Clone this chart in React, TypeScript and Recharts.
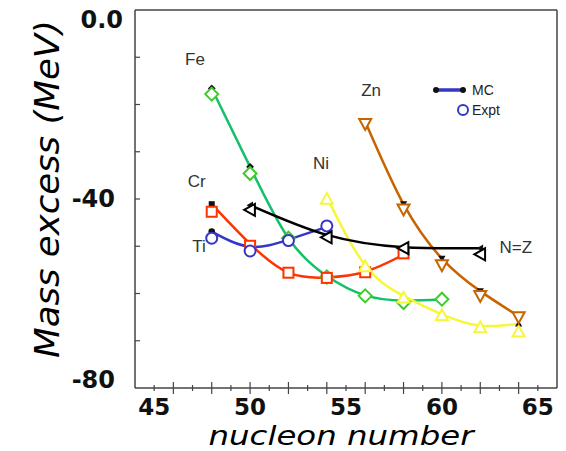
import React from "react";
import { ComposedChart, Line, Scatter, XAxis, YAxis, Legend } from "recharts";

// nucleon number (x) for each isotope chain, MC line values and experimental points (MeV)
const FE_N = [48, 50, 52, 54, 56, 58, 60];
const FE_MC = [-16.6, -33.2, -48.3, -56.3, -60.4, -61.5, -61.2];
const FE_EXPT = [-17.8, -34.6, -48.3, -56.5, -60.5, -61.9, -61.2];

const CR_N = [48, 50, 52, 54, 56, 58];
const CR_MC = [-41.1, -49.5, -55.6, -56.6, -55.4, -51.8];
const CR_EXPT = [-42.7, -49.9, -55.6, -56.7, -55.5, -51.5];

const TI_N = [48, 50, 52, 54];
const TI_MC = [-46.9, -50.1, -48.6, -45.9];
const TI_EXPT = [-48.3, -51.0, -48.8, -45.7];

const NI_N = [54, 56, 58, 60, 62, 64];
const NI_MC = [-39.6, -54.0, -60.5, -64.4, -66.8, -66.4];
const NI_EXPT = [-40.0, -54.3, -60.9, -64.6, -67.2, -68.1];

const ZN_N = [56, 58, 60, 62, 64];
const ZN_MC = [-23.6, -41.1, -52.6, -59.5, -64.8];
const ZN_EXPT = [-24.1, -42.2, -54.0, -60.5, -65.0];

const NZ_N = [50, 54, 58, 62];
const NZ_MC = [-41.3, -47.6, -50.2, -50.4];
const NZ_EXPT = [-42.3, -48.1, -50.4, -51.7];

const LABEL_TEXT = ["Fe", "Cr", "Ti", "Ni", "Zn", "N=Z"];
const LABEL_X = [47.13, 47.22, 47.34, 53.7, 56.31, 63.85];
const LABEL_Y = [-10.4, -36.3, -50.1, -32.4, -17.1, -50.2];

const X_TICKS = [45, 46, 47, 48, 49, 50, 51, 52, 53, 54, 55, 56, 57, 58, 59, 60, 61, 62, 63, 64, 65];
const Y_TICKS = [0, -10, -20, -30, -40, -50, -60, -70, -80];
const Y_LABELS: Record<number, string> = { 0: "0.0", "-40": "-40", "-80": "-80" };

const AXIS = "#444";
const TICK_FONT = "'DejaVu Sans', sans-serif";
const LABEL_FONT = "'Liberation Sans', Arial, sans-serif";

const pts = (n: number[], v: number[]) => n.map((x, i) => ({ x, y: v[i] }));

const SERIES = [
  { name: "Fe", n: FE_N, mc: FE_MC, ex: FE_EXPT, line: "#14c16a", mark: "#3fcc2a", kind: "diamond", s: 6.5 },
  { name: "Cr", n: CR_N, mc: CR_MC, ex: CR_EXPT, line: "#ff3300", mark: "#ff3300", kind: "square", s: 5 },
  { name: "Ti", n: TI_N, mc: TI_MC, ex: TI_EXPT, line: "#3535c8", mark: "#3535c8", kind: "circle", s: 5.5 },
  { name: "Ni", n: NI_N, mc: NI_MC, ex: NI_EXPT, line: "#f6f63c", mark: "#f6f63c", kind: "up", s: 6 },
  { name: "Zn", n: ZN_N, mc: ZN_MC, ex: ZN_EXPT, line: "#c86400", mark: "#c86400", kind: "down", s: 6 },
  { name: "N=Z", n: NZ_N, mc: NZ_MC, ex: NZ_EXPT, line: "#000", mark: "#000", kind: "left", s: 6 },
];

const LABELS = LABEL_TEXT.map((name, i) => ({ name, x: LABEL_X[i], y: LABEL_Y[i] }));

function Mark({ cx, cy, kind, s, stroke, fill, sw }: any) {
  if (cx == null || cy == null) return null;
  const common = { stroke, fill, strokeWidth: sw };
  if (kind === "circle") return <circle cx={cx} cy={cy} r={s} {...common} />;
  if (kind === "square") return <rect x={cx - s} y={cy - s} width={2 * s} height={2 * s} {...common} />;
  let p = "";
  if (kind === "diamond") p = `${cx},${cy - s} ${cx + s},${cy} ${cx},${cy + s} ${cx - s},${cy}`;
  if (kind === "up") p = `${cx},${cy - s} ${cx + s},${cy + s * 0.8} ${cx - s},${cy + s * 0.8}`;
  if (kind === "down") p = `${cx - s},${cy - s * 0.8} ${cx + s},${cy - s * 0.8} ${cx},${cy + s}`;
  if (kind === "left") p = `${cx - s},${cy} ${cx + s * 0.8},${cy - s} ${cx + s * 0.8},${cy + s}`;
  return <polygon points={p} {...common} />;
}

function XTick({ x, y, payload }: any) {
  const v = payload.value;
  const len = v % 2 === 0 ? 6 : 3;
  return (
    <g>
      <line x1={x} x2={x} y1={y - len} y2={y + len} stroke={AXIS} strokeWidth={1.2} />
      {v % 5 === 0 && (
        <text x={x} y={y + 27} textAnchor="middle" fontSize={23} fontWeight="bold" fontFamily={TICK_FONT} fill="#111">
          {v}
        </text>
      )}
    </g>
  );
}

function YTick({ x, y, payload }: any) {
  const v = payload.value;
  const label = Y_LABELS[v];
  const dy = v === 0 ? 10 : v === -80 ? -8 : 0;
  return (
    <g>
      {v !== 0 && v !== -80 && <line x1={x} x2={x + 5} y1={y} y2={y} stroke={AXIS} strokeWidth={1.2} />}
      {label && (
        <text x={v === 0 ? x - 12 : x - 20} y={y + dy} textAnchor="end" dominantBaseline="central" fontSize={24} fontWeight="bold" fontFamily={TICK_FONT} fill="#111">
          {label}
        </text>
      )}
    </g>
  );
}

function RTick({ x, y, payload }: any) {
  const v = payload.value;
  if (v === 0 || v === -80) return <g />;
  return <line x1={x - 5} x2={x} y1={y} y2={y} stroke={AXIS} strokeWidth={1.2} />;
}

function XTitle(props: any) {
  const vb = props.viewBox || { x: 135, y: 388, width: 422, height: 63 };
  return (
    <text x={vb.x + vb.width / 2 - 5} y={vb.y + 56.5} textAnchor="middle" fontSize={26} fontStyle="italic" fontFamily={TICK_FONT} fill="#000" textLength={265} lengthAdjust="spacingAndGlyphs">
      nucleon number
    </text>
  );
}

function YTitle(props: any) {
  const vb = props.viewBox || { x: 0, y: 10, width: 135, height: 378 };
  const cx = vb.x + 59;
  const cy = vb.y + vb.height / 2 - 10;
  return (
    <text x={cx} y={cy} transform={`rotate(-90, ${cx}, ${cy})`} textAnchor="middle" fontSize={34} fontStyle="italic" fontFamily={TICK_FONT} fill="#000" textLength={338} lengthAdjust="spacingAndGlyphs">
      Mass excess (MeV)
    </text>
  );
}

function LegendBox() {
  return (
    <svg width={130} height={44} style={{ overflow: "visible" }}>
      <line x1={11} x2={38} y1={12} y2={12} stroke="#3535c8" strokeWidth={3.5} />
      <circle cx={11} cy={12} r={3} fill="#111" />
      <circle cx={38} cy={12} r={3} fill="#111" />
      <text x={47} y={12} dominantBaseline="central" fontSize={14} fontFamily={LABEL_FONT} fill="#222">MC</text>
      <circle cx={38} cy={32} r={5} fill="none" stroke="#3535c8" strokeWidth={2} />
      <text x={47} y={32} dominantBaseline="central" fontSize={14} fontFamily={LABEL_FONT} fill="#222">Expt</text>
    </svg>
  );
}

export default function App() {
  return (
    <div style={{ position: "absolute", left: 0, top: 0, width: 566, height: 451, background: "#fff" }}>
      <ComposedChart width={566} height={451} margin={{ top: 0, right: 0, bottom: 0, left: 0 }}>
        <XAxis
          xAxisId="b"
          type="number"
          dataKey="x"
          domain={[44, 66]}
          ticks={X_TICKS}
          interval={0}
          height={63}
          tickSize={0}
          tickMargin={0}
          tickLine={false}
          axisLine={{ stroke: AXIS, strokeWidth: 1.5 }}
          tick={<XTick />}
          label={<XTitle />}
        />
        <XAxis xAxisId="t" orientation="top" type="number" domain={[44, 66]} height={10} tick={false} tickLine={false} axisLine={{ stroke: AXIS, strokeWidth: 1.5 }} />
        <YAxis
          yAxisId="l"
          type="number"
          dataKey="y"
          domain={[-80, 0]}
          ticks={Y_TICKS}
          interval={0}
          width={135}
          tickSize={0}
          tickMargin={0}
          tickLine={false}
          axisLine={{ stroke: AXIS, strokeWidth: 1.5 }}
          tick={<YTick />}
          label={<YTitle />}
        />
        <YAxis
          yAxisId="r"
          orientation="right"
          type="number"
          domain={[-80, 0]}
          ticks={Y_TICKS}
          interval={0}
          width={9}
          tickSize={0}
          tickMargin={0}
          tickLine={false}
          axisLine={{ stroke: AXIS, strokeWidth: 1.5 }}
          tick={<RTick />}
        />
        {SERIES.map((s) => (
          <Line
            key={"mc-" + s.name}
            xAxisId="b"
            yAxisId="l"
            data={pts(s.n, s.mc)}
            dataKey="y"
            type="natural"
            stroke={s.line}
            strokeWidth={2.5}
            isAnimationActive={false}
            activeDot={false}
            dot={false}
          />
        ))}
        {SERIES.map((s) => (
          <Scatter
            key={"mcdot-" + s.name}
            xAxisId="b"
            yAxisId="l"
            data={pts(s.n, s.mc)}
            isAnimationActive={false}
            shape={(p: any) => <Mark cx={p.cx} cy={p.cy} kind={s.kind} s={s.s * 0.6} stroke="#111" fill="#111" sw={0} />}
          />
        ))}
        {SERIES.map((s) => (
          <Scatter
            key={"ex-" + s.name}
            xAxisId="b"
            yAxisId="l"
            data={pts(s.n, s.ex)}
            isAnimationActive={false}
            shape={(p: any) => <Mark cx={p.cx} cy={p.cy} kind={s.kind} s={s.s} stroke={s.mark} fill="#fff" sw={2} />}
          />
        ))}
        <Scatter
          xAxisId="b"
          yAxisId="l"
          data={LABELS}
          isAnimationActive={false}
          shape={(p: any) => (
            <text x={p.cx} y={p.cy} textAnchor="middle" dominantBaseline="central" fontSize={17} fontFamily={LABEL_FONT} fill="#333">
              {p.payload.name}
            </text>
          )}
        />
        <Legend
          layout="vertical"
          verticalAlign="middle"
          align="center"
          wrapperStyle={{ left: 425, top: 78, width: 130, height: 44 }}
          content={() => <LegendBox />}
        />
      </ComposedChart>
    </div>
  );
}
